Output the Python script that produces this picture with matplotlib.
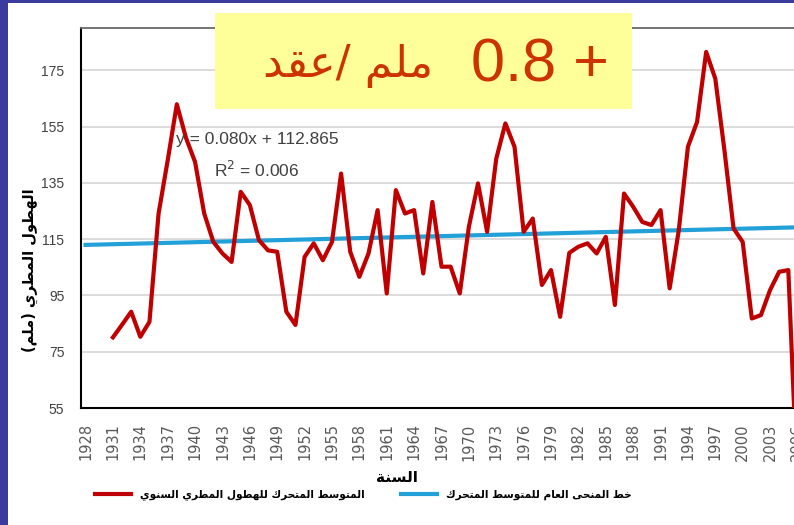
import re
import numpy as np
import matplotlib
matplotlib.use("Agg")
import matplotlib.pyplot as plt
from matplotlib.patches import Rectangle

# moving average of annual rainfall (mm), first three years empty
years = list(range(1928, 2007))
rain = [np.nan, np.nan, np.nan,
        80.1, 84.6, 89.2, 80.3, 85.6, 124.1, 143.0, 162.9, 151.0, 142.4,
        124.1, 114.0, 109.9, 106.9, 131.8, 127.1, 114.6, 111.0, 110.5, 89.2,
        84.5, 108.7, 113.5, 107.5, 114.0, 138.3, 110.5, 101.6, 109.9, 125.3,
        95.7, 132.4, 124.1, 125.3, 102.8, 128.2, 105.2, 105.2, 95.7, 119.4,
        134.8, 117.6, 143.6, 156.1, 147.8, 117.6, 122.3, 98.7, 104.0, 87.4,
        110.1, 112.3, 113.5, 109.9, 115.8, 91.6, 131.2, 126.5, 121.1, 120.0,
        125.3, 97.5, 118.2, 147.8, 156.6, 181.5, 172.0, 146.6, 118.8, 114.0,
        86.8, 88.0, 96.9, 103.4, 104.0, 27.0]
slope = 0.080
intercept = 112.865
r2 = 0.006
yticks = [55, 75, 95, 115, 135, 155, 175]

# --- tiny arabic shaper (matplotlib has no shaping / bidi) ---
FORMS = {
    'ا': (0xFE8D, 0xFE8E, None, None), 'ة': (0xFE93, 0xFE94, None, None),
    'ت': (0xFE95, 0xFE96, 0xFE97, 0xFE98), 'ح': (0xFEA1, 0xFEA2, 0xFEA3, 0xFEA4),
    'خ': (0xFEA5, 0xFEA6, 0xFEA7, 0xFEA8), 'د': (0xFEA9, 0xFEAA, None, None),
    'ر': (0xFEAD, 0xFEAE, None, None), 'س': (0xFEB1, 0xFEB2, 0xFEB3, 0xFEB4),
    'ط': (0xFEC1, 0xFEC2, 0xFEC3, 0xFEC4), 'ع': (0xFEC9, 0xFECA, 0xFECB, 0xFECC),
    'ق': (0xFED5, 0xFED6, 0xFED7, 0xFED8), 'ك': (0xFED9, 0xFEDA, 0xFEDB, 0xFEDC),
    'ل': (0xFEDD, 0xFEDE, 0xFEDF, 0xFEE0), 'م': (0xFEE1, 0xFEE2, 0xFEE3, 0xFEE4),
    'ن': (0xFEE5, 0xFEE6, 0xFEE7, 0xFEE8), 'ه': (0xFEE9, 0xFEEA, 0xFEEB, 0xFEEC),
    'و': (0xFEED, 0xFEEE, None, None), 'ى': (0xFEEF, 0xFEF0, None, None),
    'ي': (0xFEF1, 0xFEF2, 0xFEF3, 0xFEF4),
}


def ar(s):
    out = []
    for i, c in enumerate(s):
        if c not in FORMS:
            out.append(c)
            continue
        prev = s[i - 1] if i > 0 else ''
        nxt = s[i + 1] if i + 1 < len(s) else ''
        jp = prev in FORMS and FORMS[prev][2] is not None
        jn = nxt in FORMS and FORMS[c][2] is not None
        f = FORMS[c]
        if jp and jn:
            out.append(chr(f[3]))
        elif jp:
            out.append(chr(f[1]))
        elif jn:
            out.append(chr(f[2]))
        else:
            out.append(chr(f[0]))
    toks = re.findall(r'[0-9.]+|.', ''.join(out))
    mirror = {'(': ')', ')': '('}
    return ''.join(mirror.get(t, t) for t in toks[::-1])


fig = plt.figure(figsize=(7.94, 5.25), dpi=100)
ax = fig.add_axes([81 / 794, 117 / 525, 721 / 794, 380 / 525])

ax.plot(years, rain, color='#c00000', lw=3.0, solid_joinstyle='round',
        label=ar('المتوسط المتحرك للهطول المطري السنوي'), zorder=3)
idx = np.arange(1, len(years) + 1)
ax.plot(years, slope * idx + intercept, color='#22a0d8', lw=3.0,
        label=ar('خط المنحى العام للمتوسط المتحرك'), zorder=2)

ax.set_xlim(1927.5, 2006.5)
ax.set_ylim(55, 190)
ax.set_yticks(yticks)
ax.set_yticklabels([str(v) for v in yticks], family='Liberation Sans', fontsize=10, color='#404040')
ax.set_xticks(years[::3])
ax.set_xticklabels([str(y) for y in years[::3]], rotation=90, fontsize=10.5, color='#595959')
ax.tick_params(axis='both', length=0)
ax.tick_params(axis='y', pad=12)
ax.tick_params(axis='x', pad=11)
ax.grid(axis='y', color='#d9d9d9', lw=1.3)
ax.set_axisbelow(True)
for s in ['left', 'bottom']:
    ax.spines[s].set_color('black')
    ax.spines[s].set_linewidth(1.5)
for s in ['top', 'right']:
    ax.spines[s].set_color('#6a6a6a')
    ax.spines[s].set_linewidth(1.3)

fig.text(257 / 794, 1 - 140 / 525, 'y = %.3fx + %.3f' % (slope, intercept), ha='center', va='center',
         fontsize=12.5, color='#404040', family='Liberation Sans')
fig.text(257 / 794, 1 - 170 / 525, 'R$^2$ = %.3f' % r2, ha='center', va='center',
         fontsize=12.5, color='#404040', family='Liberation Sans')

fig.text(30 / 794, 1 - 270 / 525, ar('الهطول المطري (ملم)'), rotation=90, ha='center', va='center',
         fontsize=10.5, fontweight='bold', color='black')
fig.text(397 / 794, 1 - 478 / 525, ar('السنة'), ha='center', va='center',
         fontsize=11, fontweight='bold', color='black')

ax.legend(loc='center left', bbox_to_anchor=(95 / 794, 1 - 495 / 525), bbox_transform=fig.transFigure,
          ncol=2, frameon=False, borderaxespad=0, borderpad=0, handlelength=3.4, handletextpad=0.9,
          columnspacing=3.4, prop={'weight': 'bold', 'size': 7.6})

# slide decoration: blue border and the yellow note box
fig.add_artist(Rectangle((0, 0), 8 / 794, 1, transform=fig.transFigure, color='#3b3b9e', lw=0))
fig.add_artist(Rectangle((0, 1 - 3 / 525), 1, 3 / 525, transform=fig.transFigure, color='#3b3b9e', lw=0))
fig.add_artist(Rectangle((215 / 794, 1 - 109 / 525), 417 / 794, 96 / 525, transform=fig.transFigure,
                         color='#ffff99', lw=0, zorder=5))
fig.text(433 / 794, 1 - 66 / 525, ar('ملم /عقد'), ha='right', va='center',
         fontsize=32, color='#cc3300', zorder=6)
fig.text(609 / 794, 1 - 66 / 525, '0.8 +', ha='right', va='center',
         fontsize=44, color='#cc3300', family='Liberation Sans', zorder=6)

fig.savefig('out.png', dpi=100)
